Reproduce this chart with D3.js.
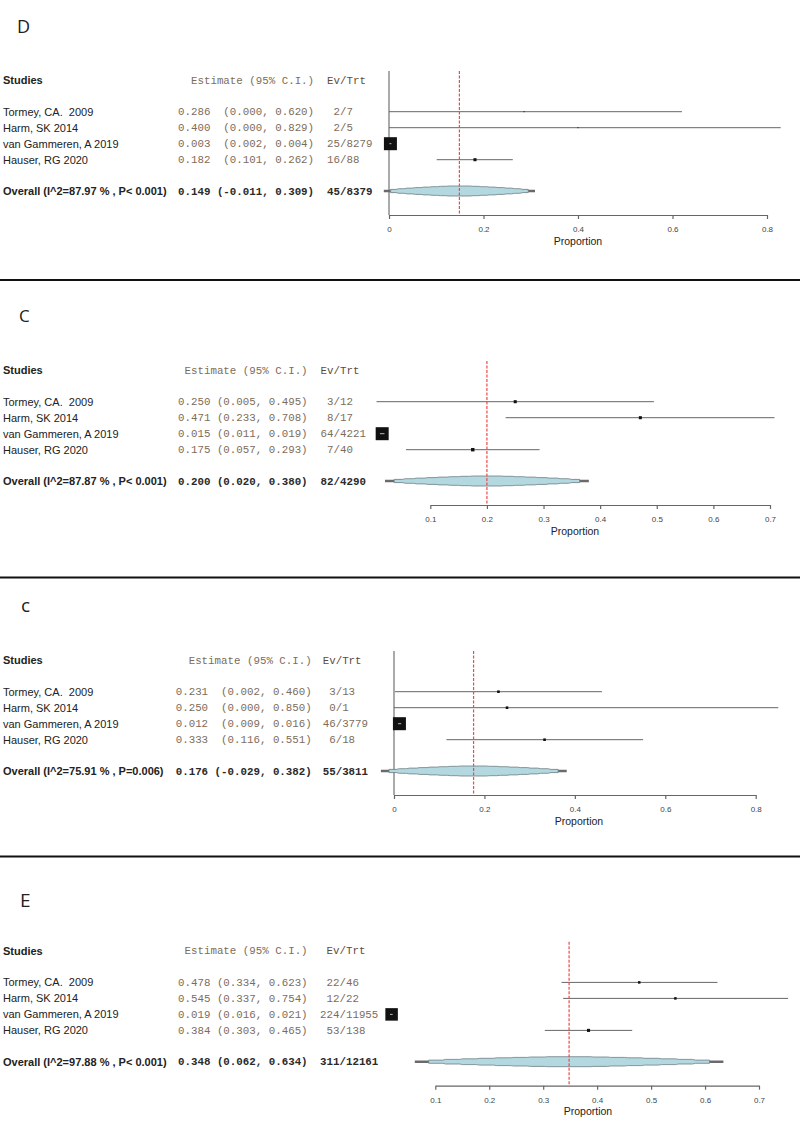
<!DOCTYPE html>
<html>
<head>
<meta charset="utf-8">
<script src="https://cdn.jsdelivr.net/npm/d3@7"></script>
<style>
  body { margin: 0; background: #fff; }
  svg text { white-space: pre; }
</style>
</head>
<body>
<script>
// ---------------- DATA ----------------
const studies = ["Tormey, CA.  2009", "Harm, SK 2014", "van Gammeren, A 2019", "Hauser, RG 2020"];
const panelNames = ["D", "C", "c", "E"];

// Panel D
const estD = [0.286, 0.400, 0.003, 0.182];
const loD  = [0.000, 0.000, 0.002, 0.101];
const hiD  = [0.620, 0.829, 0.004, 0.262];
const evD  = [2, 2, 25, 16];
const nD   = [7, 5, 8279, 88];
const wD   = [0.6, 0.4, 100, 5.5];
const overallD = [0.149, -0.011, 0.309, 45, 8379];
const overallLabelD = "Overall (I^2=87.97 % , P< 0.001)";
const ticksD = [0, 0.2, 0.4, 0.6, 0.8];

// Panel C
const estC = [0.250, 0.471, 0.015, 0.175];
const loC  = [0.005, 0.233, 0.011, 0.057];
const hiC  = [0.495, 0.708, 0.019, 0.293];
const evC  = [3, 8, 64, 7];
const nC   = [12, 17, 4221, 40];
const wC   = [5.5, 5.5, 100, 7];
const overallC = [0.200, 0.020, 0.380, 82, 4290];
const overallLabelC = "Overall (I^2=87.87 % , P< 0.001)";
const ticksC = [0.1, 0.2, 0.3, 0.4, 0.5, 0.6, 0.7];

// Panel c
const estc = [0.231, 0.250, 0.012, 0.333];
const loc  = [0.002, 0.000, 0.009, 0.116];
const hic  = [0.460, 0.850, 0.016, 0.551];
const evc  = [3, 0, 46, 6];
const nc   = [13, 1, 3779, 18];
const wc   = [4, 4, 100, 4];
const overallc = [0.176, -0.029, 0.382, 55, 3811];
const overallLabelc = "Overall (I^2=75.91 % , P=0.006)";
const ticksc = [0, 0.2, 0.4, 0.6, 0.8];

// Panel E
const estE = [0.478, 0.545, 0.019, 0.384];
const loE  = [0.334, 0.337, 0.016, 0.303];
const hiE  = [0.623, 0.754, 0.021, 0.465];
const evE  = [22, 12, 224, 53];
const nE   = [46, 22, 11955, 138];
const wE   = [4, 4, 100, 6];
const overallE = [0.348, 0.062, 0.634, 311, 12161];
const overallLabelE = "Overall (I^2=97.88 % , P< 0.001)";
const ticksE = [0.1, 0.2, 0.3, 0.4, 0.5, 0.6, 0.7];

const evHeaders = ["Ev/Trt", "Ev/Trt", "Ev/Trt", " Ev/Trt"];

// ---------------- LAYOUT (positions / styles) ----------------
const layout = [
  {H: 80,    r0: 389,   r1: 767,   estX: 178,   evX: 327,   lab: [17, 33, 18],    propX: 578, sq: 13},
  {H: 370,   r0: 430.3, r1: 770,   estX: 178,   evX: 320.5, lab: [19, 321.7, 17], propX: 575, sq: 13},
  {H: 660,   r0: 394,   r1: 755.7, estX: 175.7, evX: 322.7, lab: [21, 611.7, 19], propX: 579, sq: 13},
  {H: 950.7, r0: 435.3, r1: 759,   estX: 178,   evX: 320,   lab: [20, 906.7, 19], propX: 588, sq: 12.5}
];
const separators = [280, 577.5, 856.5];

const panels = [
  {est: estD, lo: loD, hi: hiD, ev: evD, n: nD, w: wD, ov: overallD, ovLab: overallLabelD, ticks: ticksD},
  {est: estC, lo: loC, hi: hiC, ev: evC, n: nC, w: wC, ov: overallC, ovLab: overallLabelC, ticks: ticksC},
  {est: estc, lo: loc, hi: hic, ev: evc, n: nc, w: wc, ov: overallc, ovLab: overallLabelc, ticks: ticksc},
  {est: estE, lo: loE, hi: hiE, ev: evE, n: nE, w: wE, ov: overallE, ovLab: overallLabelE, ticks: ticksE}
];

const SANS = "'Liberation Sans', Arial, sans-serif";
const MONO = "'Courier New', 'Liberation Mono', monospace";
const EST_COL = "#7d6c5b";

const svg = d3.select("body").append("svg")
  .attr("width", 800).attr("height", 1126);

svg.selectAll("line.sep").data(separators).join("line")
  .attr("class", "sep")
  .attr("x1", 0).attr("x2", 800)
  .attr("y1", d => d).attr("y2", d => d)
  .attr("stroke", "#111").attr("stroke-width", 2);

const fmtTick = d => d === 0 ? "0" : d3.format(".1f")(d);

panels.forEach((p, k) => {
  const L = layout[k];
  const g = svg.append("g");
  const x = d3.scaleLinear()
    .domain([p.ticks[0], p.ticks[p.ticks.length - 1]])
    .range([L.r0, L.r1]);
  const rowY = i => L.H + 31.7 + 16 * i;
  const ovY = L.H + 111;
  const axY = L.H + 135;
  const topY = L.H - 9;

  // panel letter
  g.append("text").attr("x", L.lab[0]).attr("y", L.lab[1])
    .attr("font-family", "'Open Sans', 'Noto Sans', sans-serif")
    .attr("font-size", L.lab[2]).attr("fill", "#222")
    .text(panelNames[k]);

  // estimate strings
  const all = p.est.map((e, i) => [e, p.lo[i], p.hi[i]]).concat([[p.ov[0], p.ov[1], p.ov[2]]]);
  const loParts = all.map(a => "(" + a[1].toFixed(3) + ",");
  const wLo = d3.max(loParts, s => s.length);
  const estStr = all.map((a, i) => a[0].toFixed(3) + " " + loParts[i].padStart(wLo) + " " + a[2].toFixed(3) + ")");
  const evAll = p.ev.concat([p.ov[3]]);
  const nAll = p.n.concat([p.ov[4]]);
  const wEv = d3.max(evAll, v => String(v).length);
  const evStr = evAll.map((v, i) => (i < p.ev.length ? String(v).padStart(wEv) : String(v)) + "/" + nAll[i]);

  // header
  g.append("text").attr("x", 3).attr("y", L.H).attr("dy", "0.35em")
    .attr("font-family", SANS).attr("font-weight", "bold").attr("font-size", 11)
    .attr("fill", "#222").text("Studies");
  const firstRow = g.append("text").attr("x", L.estX).attr("y", rowY(0)).attr("dy", "0.35em")
    .attr("font-family", MONO).attr("font-size", 10.8).attr("fill", EST_COL)
    .attr("xml:space", "preserve").text(estStr[0]);
  const estW = firstRow.node().getComputedTextLength();
  g.append("text").attr("x", L.estX + estW).attr("y", L.H).attr("dy", "0.35em")
    .attr("text-anchor", "end")
    .attr("font-family", MONO).attr("font-size", 10.8).attr("fill", EST_COL)
    .attr("xml:space", "preserve").text("Estimate (95% C.I.)");
  g.append("text").attr("x", L.evX).attr("y", L.H).attr("dy", "0.35em")
    .attr("font-family", MONO).attr("font-size", 10.8).attr("fill", "#5e4c3b")
    .attr("xml:space", "preserve").text(evHeaders[k]);

  // study rows
  studies.forEach((s, i) => {
    g.append("text").attr("x", 3).attr("y", rowY(i)).attr("dy", "0.35em")
      .attr("font-family", SANS).attr("font-size", 11).attr("fill", "#222")
      .attr("xml:space", "preserve").text(s);
    if (i > 0) {
      g.append("text").attr("x", L.estX).attr("y", rowY(i)).attr("dy", "0.35em")
        .attr("font-family", MONO).attr("font-size", 10.8).attr("fill", EST_COL)
        .attr("xml:space", "preserve").text(estStr[i]);
    }
    g.append("text").attr("x", L.evX).attr("y", rowY(i)).attr("dy", "0.35em")
      .attr("font-family", MONO).attr("font-size", 10.8).attr("fill", EST_COL)
      .attr("xml:space", "preserve").text(evStr[i]);
  });

  // overall row text
  g.append("text").attr("x", 3).attr("y", ovY).attr("dy", "0.35em")
    .attr("font-family", SANS).attr("font-weight", "bold").attr("font-size", 11)
    .attr("fill", "#222").attr("xml:space", "preserve").text(p.ovLab);
  g.append("text").attr("x", L.estX).attr("y", ovY).attr("dy", "0.35em")
    .attr("font-family", MONO).attr("font-weight", "bold").attr("font-size", 10.8)
    .attr("fill", "#2a2a2a").attr("xml:space", "preserve").text(estStr[p.est.length]);
  g.append("text").attr("x", L.evX).attr("y", ovY).attr("dy", "0.35em")
    .attr("font-family", MONO).attr("font-weight", "bold").attr("font-size", 10.8)
    .attr("fill", "#2a2a2a").attr("xml:space", "preserve").text(evStr[p.est.length]);

  // zero line
  if (p.ticks[0] === 0) {
    g.append("line").attr("x1", x(0)).attr("x2", x(0))
      .attr("y1", topY).attr("y2", axY)
      .attr("stroke", "#aaa").attr("stroke-width", 2);
  }

  // CI lines
  const size = d3.scaleSqrt().domain([0, 100]).range([0, L.sq]);
  p.est.forEach((e, i) => {
    g.append("line").attr("x1", x(p.lo[i])).attr("x2", x(p.hi[i]))
      .attr("y1", rowY(i)).attr("y2", rowY(i))
      .attr("stroke", "#666").attr("stroke-width", 1);
  });
  // squares
  p.est.forEach((e, i) => {
    const s = Math.max(1, size(p.w[i]));
    g.append("rect").attr("x", x(e) - s / 2).attr("y", rowY(i) - s / 2)
      .attr("width", s).attr("height", s).attr("fill", "#111");
    if (s > 6) {
      const a = x(p.lo[i]), b = x(p.hi[i]);
      const c = (a + b) / 2, hw = Math.max(1, (b - a) / 2);
      g.append("line").attr("x1", c - hw).attr("x2", c + hw)
        .attr("y1", rowY(i)).attr("y2", rowY(i))
        .attr("stroke", "#bbb").attr("stroke-width", 1);
    }
  });

  // overall diamond: stepped polygon
  const [oE, oL, oH] = p.ov;
  g.append("line").attr("x1", x(oL)).attr("x2", x(oH))
    .attr("y1", ovY).attr("y2", ovY)
    .attr("stroke", "#6a6a6a").attr("stroke-width", 2.6);
  const fr = [0.91, 0.8, 0.69, 0.58, 0.47, 0.36, 0.25, 0.14];
  const hh = [1.6, 2.3, 2.9, 3.4, 3.9, 4.3, 4.7, 5.0];
  const half = (oH - oL) / 2;
  const sl = 3;
  const topPts = [];
  fr.forEach((f, j) => {
    const xl = x(oE - f * half);
    if (j === 0) topPts.push([xl, ovY]);
    else topPts.push([xl - sl, ovY - hh[j - 1]]);
    topPts.push([xl, ovY - hh[j]]);
  });
  const cx = x(oE);
  const rightPts = topPts.slice().reverse().map(q => [2 * cx - q[0], q[1]]);
  const upper = topPts.concat(rightPts);
  const lower = upper.slice().reverse().map(q => [q[0], 2 * ovY - q[1]]);
  const poly = upper.concat(lower);
  g.append("polygon").attr("points", poly.map(q => q.join(",")).join(" "))
    .attr("fill", "#b4d8e0")
    .attr("stroke", "#6f7f84").attr("stroke-width", 0.8)
    .attr("stroke-linejoin", "round");

  // red dashed line at overall estimate
  g.append("line").attr("x1", x(oE)).attr("x2", x(oE))
    .attr("y1", topY).attr("y2", axY)
    .attr("stroke", "#ee4a4a")
    .attr("stroke-width", 1.2).attr("stroke-dasharray", "3,1.5");

  // axis
  const ax = g.append("g").attr("transform", `translate(0,${axY})`)
    .call(d3.axisBottom(x).tickValues(p.ticks).tickFormat(fmtTick)
      .tickSize(4).tickSizeOuter(0).tickPadding(7.5));
  ax.attr("font-family", SANS).attr("font-size", 8);
  ax.select(".domain").attr("stroke", "#666").attr("stroke-width", 1.2);
  ax.selectAll(".tick line").attr("stroke", "#666").attr("stroke-width", 1.2);
  ax.selectAll(".tick text").attr("fill", "#444");

  g.append("text").attr("x", L.propX).attr("y", axY + 26).attr("dy", "0.35em")
    .attr("text-anchor", "middle")
    .attr("font-family", SANS).attr("font-size", 10.5).attr("fill", "#222")
    .text("Proportion");
});
</script>
</body>
</html>
